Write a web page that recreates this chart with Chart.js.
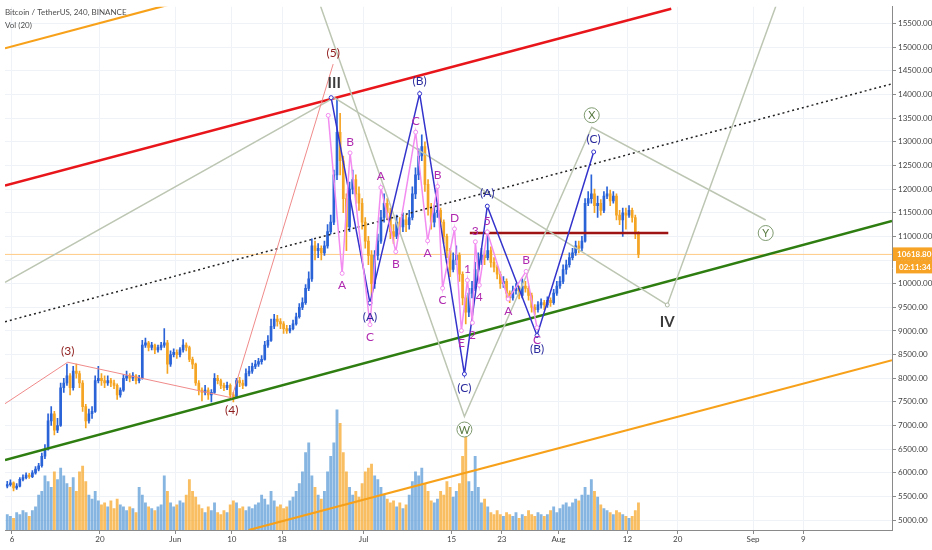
<!DOCTYPE html>
<html>
<head>
<meta charset="utf-8">
<script src="https://cdn.jsdelivr.net/npm/chart.js@4.4.1/dist/chart.umd.min.js"></script>
<style>
  html, body { margin: 0; padding: 0; background: #fff; }
  #wrap { width: 932px; height: 550px; position: relative; }
</style>
</head>
<body>
<div id="wrap"><canvas id="btcChart"></canvas></div>
<script>
// BTC/USDT, 12h candles. x = days since 6 May 2019
const candleStart = -0.75;
const candleStep = 0.5;
const firstOpen = 5720;

const closes = [
  5750,5790,5680,5720,5860,5900,5950,5920,6000,6080,
  6150,6350,6500,7100,7250,6900,7000,7800,7900,8050,
  7800,8150,8100,7900,7400,7100,7250,7300,7950,8000,
  7950,7900,7950,7900,7850,7650,7750,8000,8050,8000,
  8050,7950,8000,8700,8750,8650,8700,8600,8650,8700,
  8750,8300,8500,8550,8500,8600,8700,8650,8400,8300,
  7900,7750,7700,7750,7650,7700,8000,7950,7850,7800,
  7850,7650,7600,7950,7900,7850,8100,8150,8250,8300,
  8350,8400,8700,8800,9100,9250,9200,9150,9050,9000,
  9050,9150,9300,9500,9600,9900,10100,10800,10700,10750,
  10650,10800,11100,11300,12300,13200,12600,11800,11200,12000,
  12200,11900,11700,11300,10900,10600,10000,10600,10900,11400,
  11700,11500,11100,11000,11300,11200,11350,11250,11400,11900,
  12300,12700,12900,12100,11600,11300,11500,11550,11300,11000,
  10700,10300,10500,10600,10200,9700,9400,9800,9900,10300,
  10500,10600,10550,10700,10450,10350,10200,10000,10050,9800,
  9700,9850,9900,9750,9950,9900,9750,9500,9450,9550,
  9600,9550,9650,9600,9800,9950,10050,10300,10400,10550,
  10650,10800,10750,10900,11700,11800,11900,11650,11700,11550,
  11850,11900,11750,11850,11450,11350,11500,11450,11550,11400,
  11050,10618.8
];

const highs = [
  5820,5850,5810,5770,5900,5960,6000,5990,6050,6130,
  6200,6420,6600,7250,7400,7300,7150,7900,8000,8300,
  8100,8250,8300,8150,7950,7450,7350,7400,8050,8250,
  8100,8050,8050,8000,7960,7880,7800,8080,8150,8100,
  8120,8080,8060,8800,8850,8780,8760,8720,8700,8760,
  9050,8800,8580,8620,8600,8650,8820,8750,8680,8450,
  8320,7950,7800,7850,7800,7760,8100,8060,7980,7900,
  7920,7880,7700,8000,8020,7960,8200,8250,8320,8380,
  8420,8480,8780,8900,9250,9350,9330,9260,9200,9120,
  9120,9230,9380,9580,9700,9980,10250,10950,10900,10850,
  10800,10900,11250,11450,12400,13930,13600,12700,11900,12150,
  12400,12300,12050,11800,11400,11000,10700,10700,11050,11550,
  11900,11800,11600,11250,11450,11400,11500,11450,11550,12050,
  12450,12850,13150,13000,12200,11700,11650,11700,11600,11350,
  11050,10750,10650,10800,10650,10250,9750,9900,10050,10450,
  10650,10750,10700,11050,10780,10550,10400,10250,10150,10100,
  9850,9950,10000,9950,10100,10050,9950,9800,9560,9620,
  9680,9650,9720,9700,9880,10050,10150,10400,10500,10650,
  10750,10900,10900,11000,11800,11950,12300,12000,11850,11780,
  11950,12050,11980,11950,11900,11550,11600,11600,11650,11600,
  11450,11100
];

const lows = [
  5680,5720,5620,5650,5700,5830,5870,5880,5900,5970,
  6040,6120,6300,6480,7000,6800,6850,6980,7700,7850,
  7650,7750,8000,7800,7300,6950,7050,7150,7280,7900,
  7850,7800,7850,7820,7780,7550,7600,7720,7950,7920,
  7950,7880,7900,7980,8650,8580,8600,8520,8550,8600,
  8650,8100,8250,8450,8420,8450,8550,8580,8350,8200,
  7850,7650,7520,7650,7550,7500,7680,7880,7780,7740,
  7760,7600,7500,7580,7820,7780,7830,8050,8100,8200,
  8250,8300,8380,8650,8780,9050,9100,9050,8950,8950,
  8960,9020,9120,9270,9450,9560,9850,10050,10500,10550,
  10500,10600,10750,11050,11250,12200,12300,11500,10700,11100,
  11900,11700,11550,11150,10750,10400,9750,9900,10500,10850,
  11300,11350,10950,10850,10950,11050,11100,11100,11150,11350,
  11800,12200,12600,11950,11450,11150,11200,11400,11200,10850,
  10550,10150,10250,10400,10050,9550,9150,9300,9700,9850,
  10200,10400,10400,10500,10350,10250,10100,9900,9920,9700,
  9600,9650,9780,9680,9700,9820,9650,9400,9350,9400,
  9480,9450,9500,9520,9560,9750,9900,10000,10200,10350,
  10500,10600,10650,10700,10880,11650,11700,11500,11400,11450,
  11500,11800,11650,11700,11350,11250,11000,11150,11400,11300,
  10950,10550
];

// volume, thousand BTC per candle
const volumes = [
  8,7,6,9,8,10,9,7,10,12,
  18,20,28,25,22,30,26,32,28,24,
  22,27,20,30,33,25,18,16,20,15,
  13,14,12,15,11,16,13,12,10,12,
  11,9,22,18,14,12,11,10,12,13,
  28,20,14,12,13,15,14,18,26,20,
  17,13,11,9,12,10,14,9,8,10,
  9,13,15,14,11,12,10,12,11,13,
  14,18,16,13,20,15,12,13,11,12,
  15,17,20,24,30,40,45,28,22,18,
  16,20,30,38,45,62,55,40,30,22,
  18,20,17,24,30,32,34,28,26,22,
  18,16,14,15,12,14,11,13,18,25,
  30,28,32,24,20,15,14,16,20,18,
  25,22,17,20,24,38,48,25,20,38,
  22,14,16,12,9,8,10,8,7,9,
  8,7,9,6,8,7,10,8,7,9,
  8,7,8,10,12,9,11,13,14,12,
  14,16,15,18,22,18,26,20,17,13,
  11,10,9,8,10,9,8,7,6,7,
  10,14
];

const lastPrice = 10618.8;
const countdown = '02:11:34';

// axes
const priceTicks = [5000, 5500, 6000, 6500, 7000, 7500, 8000, 8500, 9000, 9500, 10000,
                    10500, 11000, 11500, 12000, 12500, 13000, 13500, 14000, 14500, 15000, 15500];
const dateTicks  = [0, 14, 26, 35, 43, 56, 70, 78, 87, 98, 106, 118, 126];
const dateLabels = ['6', '20', 'Jun', '10', '18', 'Jul', '15', '23', 'Aug', '12', '20', 'Sep', '9'];

// drawn trend lines, [day, price]
const redChannel    = [[-1.11, 12076], [104.97, 15813]];
const dottedMid     = [[-1.11, 9195], [140.12, 14227]];
const greenSupport  = [[-1.11, 6272], [140.12, 11325]];
const orangeTop     = [[-1.11, 14978], [40, 16430]];
const orangeBottom  = [[37.68, 4790], [140.12, 8381]];
const resistance    = [[72.9, 11074], [104.5, 11074]];

// wave counts, [day, price]
const primaryPts = [[-1.11, 7462], [8.87, 8339], [34.99, 7587], [51.14, 14644]];
const primaryLbl = ['', '(3)', '(4)', '(5)'];
const grayPts = [[-1.11, 10030], [51.3, 13934], [104.34, 9550], [123, 16370]];
const grayLbl = ['', 'III', 'IV', ''];
const wxyPts = [[48, 16297], [72.04, 7191], [92.31, 13308], [120.01, 11346]];
const wxyLbl = ['', 'W', 'X', 'Y'];
const bluePts = [[50.82, 13934], [57.0, 9592], [64.91, 14018], [72.04, 8089],
                 [75.68, 11638], [83.60, 8903], [92.62, 12786]];
const blueLbl = ['', '(A)', '(B)', '(C)', '(A)', '(B)', '(C)'];
const violetPts = [[50.35, 13558], [52.57, 10218], [53.83, 12765], [57.0, 9133],
                   [58.74, 12034], [61.11, 10677], [64.28, 13204], [66.18, 10907],
                   [67.76, 12055], [68.56, 9905], [70.46, 11158], [71.56, 9007],
                   [72.51, 10072], [73.31, 9174], [73.78, 10886], [74.41, 9968],
                   [75.68, 11095], [79.01, 9675], [81.86, 10260], [83.60, 9070]];
const violetLbl = ['', 'A', 'B', 'C', 'A', 'B', 'C', 'A', 'B', 'C', 'D', 'E',
                   '1', '2', '3', '4', '5', 'A', 'B', 'C'];

// ---- build ----
const tAt = i => candleStart + i * candleStep;
const opens = closes.map((c, i) => i === 0 ? firstOpen : closes[i - 1]);
const isUp = closes.map((c, i) => c >= opens[i]);
const candleCol = isUp.map(u => u ? '#2A62D8' : '#F5A524');
const volCol = isUp.map(u => u ? 'rgba(88,152,214,0.72)' : 'rgba(247,165,36,0.72)');

const xy = pts => pts.map(p => ({ x: p[0], y: p[1] }));
function line(pts, color, width, order, extra) {
  return Object.assign({
    type: 'line', data: xy(pts), borderColor: color, borderWidth: width,
    pointRadius: 0, fill: false, tension: 0, order: order, yAxisID: 'y'
  }, extra || {});
}
const dotted = { pointRadius: 2, pointBackgroundColor: '#fff', pointBorderWidth: 1 };

Chart.defaults.font.family = 'Lato, "Liberation Sans", sans-serif';
Chart.defaults.color = '#4a4a4a';

const annot = {
  id: 'annot',
  afterDatasetsDraw(chart) {
    const { ctx, chartArea: a } = chart;
    const sx = chart.scales.x, sy = chart.scales.y;
    const px = p => [sx.getPixelForValue(p[0]), sy.getPixelForValue(p[1])];
    ctx.save();
    ctx.beginPath();
    ctx.rect(a.left, a.top, a.right - a.left, a.bottom - a.top);
    ctx.clip();
    ctx.textAlign = 'center';
    ctx.textBaseline = 'middle';

    function waveText(pts, labels, color, font, up, down) {
      ctx.fillStyle = color;
      ctx.font = font;
      pts.forEach((p, i) => {
        if (!labels[i]) return;
        const below = i > 0 && p[1] < pts[i - 1][1];
        const [X, Y] = px(p);
        ctx.fillText(labels[i], X, Y + (below ? down : up));
      });
    }
    waveText(primaryPts, primaryLbl, '#8E1B1B', '12px Lato', -11, 12);
    waveText(grayPts, grayLbl, '#3a3a3a', 'bold 15px Lato', -14, 17);
    waveText(bluePts, blueLbl, '#2B2B9E', '12px Lato', -13, 14);
    waveText(violetPts, violetLbl, '#B02AB0', '12px Lato', -11, 12);

    // IV pivot marker
    const [ivx, ivy] = px(grayPts[2]);
    ctx.beginPath();
    ctx.arc(ivx, ivy, 2, 0, Math.PI * 2);
    ctx.fillStyle = '#fff'; ctx.fill();
    ctx.strokeStyle = '#AEB8A4'; ctx.lineWidth = 1; ctx.stroke();

    // circled W X Y
    ctx.font = '11px Lato';
    wxyPts.forEach((p, i) => {
      if (!wxyLbl[i]) return;
      const below = p[1] < wxyPts[i - 1][1];
      const [X, Y0] = px(p);
      const Y = Y0 + (below ? 13 : -12);
      ctx.beginPath();
      ctx.arc(X, Y, 7.5, 0, Math.PI * 2);
      ctx.fillStyle = 'rgba(255,255,255,0.7)'; ctx.fill();
      ctx.strokeStyle = '#7F9A70'; ctx.lineWidth = 1; ctx.stroke();
      ctx.fillStyle = '#56783F';
      ctx.fillText(wxyLbl[i], X, Y + 0.5);
    });
    ctx.restore();

    // header
    ctx.save();
    ctx.fillStyle = '#4d4d4d';
    ctx.font = '8px Lato';
    ctx.textAlign = 'left';
    ctx.textBaseline = 'middle';
    ctx.fillText('Bitcoin / TetherUS, 240, BINANCE', 5, 12);
    ctx.fillText('Vol (20)', 5, 25);
    ctx.restore();
  },
  afterDraw(chart) {
    const { ctx, chartArea: a } = chart;
    const y = chart.scales.y.getPixelForValue(lastPrice);
    ctx.save();
    ctx.fillStyle = '#F7A325';
    ctx.fillRect(a.right + 1, y - 7, 40, 13.5);
    ctx.fillRect(a.right + 4, y + 6.5, 37, 12.5);
    ctx.fillStyle = '#fff';
    ctx.font = 'bold 8px Lato';
    ctx.textAlign = 'left';
    ctx.textBaseline = 'middle';
    ctx.fillText(lastPrice.toFixed(2), a.right + 5, y);
    ctx.fillText(countdown, a.right + 7, y + 13);
    ctx.restore();
  }
};

new Chart(document.getElementById('btcChart'), {
  type: 'bar',
  data: {
    datasets: [
      // wave counts on top
      line(violetPts, '#F28CF0', 1.5, 1, dotted),
      line(bluePts, '#3434CC', 1.5, 1, dotted),
      line(primaryPts, '#F08A8A', 1, 2),
      line(grayPts, '#BCC6B2', 1.5, 2),
      line(wxyPts, '#BCC6B2', 1.5, 2),
      // channel lines
      line(resistance, '#9E1313', 2.5, 3),
      line(redChannel, '#E8161B', 2.5, 3),
      line(greenSupport, '#2E7D10', 2.5, 3),
      line(dottedMid, '#222', 1.5, 3, { borderDash: [2, 3] }),
      line(orangeTop, '#F7A11A', 2.2, 3),
      line(orangeBottom, '#F7A11A', 2.2, 3),
      line([[-1.11, lastPrice], [140.12, lastPrice]], '#FFCB85', 1, 7),
      // candles
      {
        type: 'bar', label: 'body', order: 5, grouped: false, barThickness: 2, minBarLength: 1,
        data: closes.map((c, i) => ({ x: tAt(i), y: [Math.min(opens[i], c), Math.max(opens[i], c)] })),
        backgroundColor: candleCol
      },
      {
        type: 'bar', label: 'wick', order: 6, grouped: false, barThickness: 1,
        data: closes.map((c, i) => ({
          x: tAt(i),
          y: [Math.min(lows[i], opens[i], c), Math.max(highs[i], opens[i], c)]
        })),
        backgroundColor: candleCol
      },
      // volume
      {
        type: 'bar', label: 'volume', order: 10, grouped: false, barThickness: 2.2,
        yAxisID: 'yv',
        data: volumes.map((v, i) => ({ x: tAt(i), y: v })),
        backgroundColor: volCol
      }
    ]
  },
  options: {
    responsive: true,
    maintainAspectRatio: false,
    animation: false,
    layout: { padding: 0 },
    plugins: { legend: { display: false }, tooltip: { enabled: false } },
    scales: {
      x: {
        type: 'linear', min: -1.11, max: 140.12, offset: false,
        grid: { color: '#EFF2F6', offset: false, tickLength: 4, tickColor: '#8A8A8A' },
        border: { color: '#8A8A8A' },
        afterBuildTicks: s => { s.ticks = dateTicks.map(v => ({ value: v })); },
        afterFit: s => { s.height = 20; },
        ticks: {
          autoSkip: false, maxRotation: 0, padding: 1,
          font: { size: 8 }, color: '#444',
          callback: (v, i) => dateLabels[i]
        }
      },
      y: {
        position: 'right', min: 4791, max: 15855,
        grid: { color: '#EFF2F6', tickLength: 4, tickColor: '#8A8A8A' },
        border: { color: '#8A8A8A' },
        afterBuildTicks: s => { s.ticks = priceTicks.map(v => ({ value: v })); },
        afterFit: s => { s.width = 40; },
        ticks: {
          autoSkip: false, padding: 2, font: { size: 8 }, color: '#444',
          callback: v => v.toFixed(2)
        }
      },
      yv: { display: false, min: 0, max: 270 }
    }
  },
  plugins: [annot]
});
</script>
</body>
</html>
